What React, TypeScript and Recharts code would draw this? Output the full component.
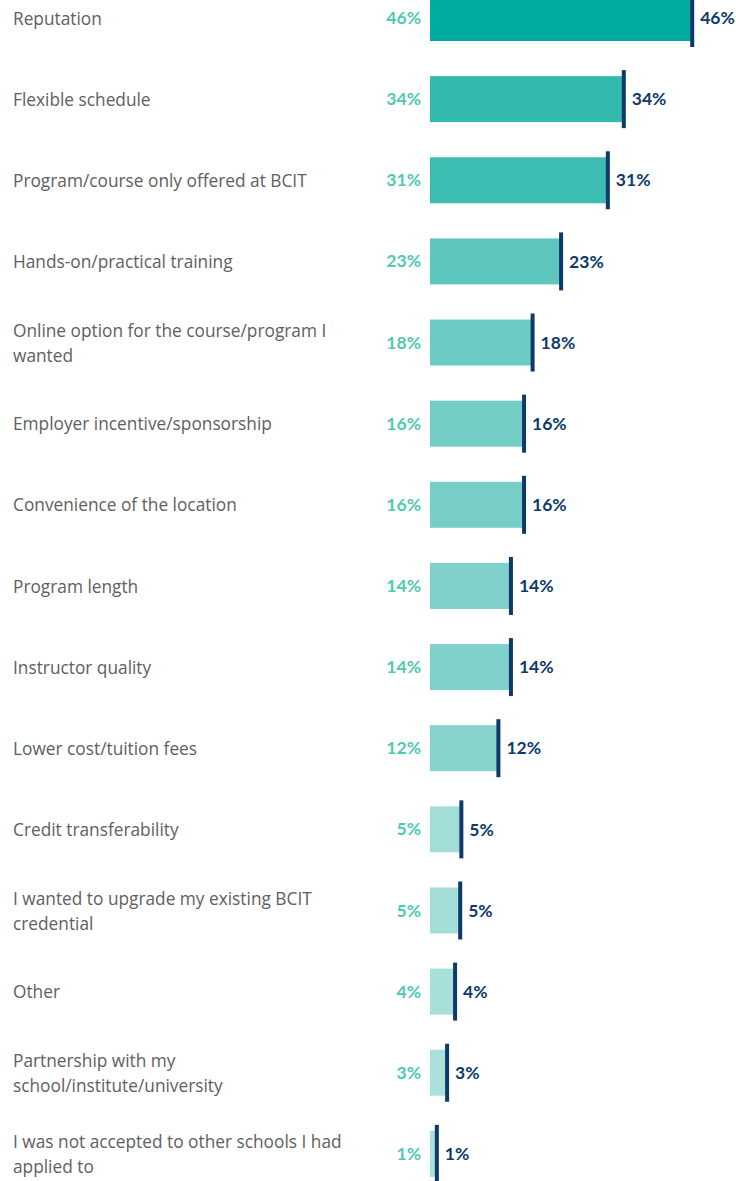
import React from 'react';
import { BarChart, Bar, XAxis, YAxis, LabelList } from 'recharts';

const categories = [
  'Reputation',
  'Flexible schedule',
  'Program/course only offered at BCIT',
  'Hands-on/practical training',
  'Online option for the course/program I\nwanted',
  'Employer incentive/sponsorship',
  'Convenience of the location',
  'Program length',
  'Instructor quality',
  'Lower cost/tuition fees',
  'Credit transferability',
  'I wanted to upgrade my existing BCIT\ncredential',
  'Other',
  'Partnership with my\nschool/institute/university',
  'I was not accepted to other schools I had\napplied to',
];

const values = [46, 34, 31.2, 23, 18, 16.5, 16.5, 14.2, 14.2, 12, 5.5, 5.3, 4.4, 3, 1.2];
const valueLabels = ['46%', '34%', '31%', '23%', '18%', '16%', '16%', '14%', '14%', '12%', '5%', '5%', '4%', '3%', '1%'];

const barColors = [
  '#00ac9f', '#33b9ae', '#3dbcb2', '#5fc6bd', '#6ccbc2', '#74cdc5', '#76cec6',
  '#7fd1ca', '#80d1ca', '#86d3cc', '#a3ddd7', '#a5ded8', '#a7dfd9', '#abe0da', '#aee1dc',
];

const data = categories.map((name, i) => ({ name, value: values[i], label: valueLabels[i], color: barColors[i] }));

const LABEL_FONT = '"Open Sans", sans-serif';
const PCT_FONT = 'Lato, "Open Sans", sans-serif';
const NAVY = '#0d3a6b';
const TEAL_TEXT = '#4ec9b2';

const CategoryTick = (props: any) => {
  const { y, payload, index } = props;
  const lines = String(payload.value).split('\n');
  const lh = 25;
  const start = -((lines.length - 1) * lh) / 2;
  return (
    <g>
      <text x={13} y={y} fill="#606060" fontSize={17.3} fontFamily={LABEL_FONT} dominantBaseline="central">
        {lines.map((l, k) => (
          <tspan key={k} x={13} dy={k === 0 ? start : lh}>{l}</tspan>
        ))}
      </text>
      <text x={421} y={y} fill={TEAL_TEXT} fontSize={17.5} fontWeight={700} fontFamily={PCT_FONT} textAnchor="end" dominantBaseline="central">
        {data[index]?.label}
      </text>
    </g>
  );
};

const BarWithMarker = (props: any) => {
  const { x, y, width, height, payload } = props;
  return (
    <g>
      <rect x={x} y={y} width={width} height={height} fill={payload.color} />
      <rect x={x + width - 2} y={y - 6} width={4} height={height + 12} fill={NAVY} />
    </g>
  );
};

export default function App() {
  return (
    <div style={{ position: 'absolute', left: 0, top: 0, width: 736, height: 1181, overflow: 'hidden', background: '#fff' }}>
      <div style={{ position: 'absolute', left: 0, top: -23 }}>
        <BarChart
          width={736}
          height={1217}
          data={data}
          layout="vertical"
          margin={{ top: 0, right: 21, bottom: 0, left: 0 }}
        >
          <XAxis type="number" domain={[0, 50]} hide />
          <YAxis
            type="category"
            dataKey="name"
            width={430}
            axisLine={false}
            tickLine={false}
            interval={0}
            tick={<CategoryTick />}
          />
          <Bar dataKey="value" barSize={46} shape={<BarWithMarker />} isAnimationActive={false}>
            <LabelList
              dataKey="label"
              position="right"
              offset={8}
              fill={NAVY}
              fontSize={17.5}
              fontWeight={700}
              fontFamily={PCT_FONT}
            />
          </Bar>
        </BarChart>
      </div>
    </div>
  );
}
